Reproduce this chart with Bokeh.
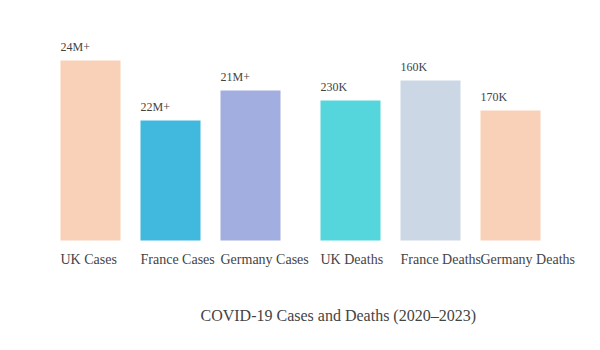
from bokeh.plotting import figure
from bokeh.models import Range1d, ColumnDataSource
from bokeh.core.properties import value
from bokeh.embed import file_html
from bokeh.resources import INLINE

categories = ["UK Cases", "France Cases", "Germany Cases", "UK Deaths", "France Deaths", "Germany Deaths"]
heights = [180, 120, 150, 140, 160, 130]
value_labels = ["24M+", "22M+", "21M+", "230K", "160K", "170K"]
colors = ["#f9d0b8", "#41b8de", "#a3aee0", "#55d5dc", "#cbd7e4", "#f9d0b8"]
title_text = "COVID-19 Cases and Deaths (2020\u20132023)"

lefts = [60 + 80 * i + (20 if i >= 3 else 0) for i in range(len(categories))]
src = ColumnDataSource(dict(
    left=lefts,
    right=[l + 60 for l in lefts],
    top=heights,
    bottom=[0] * len(heights),
    color=colors,
    vlabel=value_labels,
    vy=[h + 14 for h in heights],
    cat=categories,
    cy=[-19] * len(heights),
))

p = figure(width=600, height=350, output_backend="svg", toolbar_location=None,
           x_range=Range1d(0, 600), y_range=Range1d(-110, 240), min_border=0)
p.axis.visible = False
p.grid.visible = False
p.outline_line_color = None
p.background_fill_color = "white"

p.quad(left="left", right="right", top="top", bottom="bottom", fill_color="color",
       line_color=None, source=src)
p.text(x="left", y="vy", text="vlabel", source=src, text_font=value("Liberation Serif"),
       text_font_size="12px", text_color="#444444", text_baseline="alphabetic", text_align="left")
p.text(x="left", y="cy", text="cat", source=src, text_font=value("Liberation Serif"),
       text_font_size="14px", text_color="#444444", text_baseline="alphabetic", text_align="left")
p.text(x=[200], y=[-75], text=[title_text], text_font=value("Liberation Serif"),
       text_font_size="16px", text_color="#444444", text_baseline="alphabetic", text_align="left")

open("out.html", "w").write(file_html(p, INLINE))
